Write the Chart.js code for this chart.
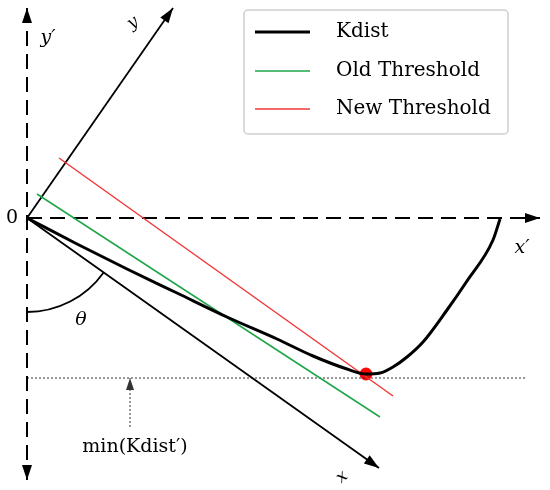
<!DOCTYPE html>
<html>
<head>
<meta charset="utf-8">
<script src="https://cdn.jsdelivr.net/npm/chart.js@4.4.1/dist/chart.umd.min.js"></script>
<style>
  html, body { margin: 0; padding: 0; background: #fff; }
  #wrap { width: 550px; height: 490px; }
</style>
</head>
<body>
<div id="wrap"><canvas id="chart" width="550" height="490"></canvas></div>
<script>
// Diagram data, origin at "0", x' to the right, y' up
const kdistX = [0, 50, 100, 150, 200, 250, 286, 320, 339, 353, 366, 380, 396, 420, 440, 466, 473];
const kdistY = [0, -26, -51, -75, -99, -121, -138, -151, -156, -155, -149, -139, -124, -92, -63, -22, -1];
const oldThrX = [10, 353];
const oldThrY = [24, -199];
const newThrX = [32, 366];
const newThrY = [60, -178];
const minPointX = [339];
const minPointY = [-156];
const minLevel = -160;

const legendLabels = ['Kdist', 'Old Threshold', 'New Threshold'];

function pts(xs, ys) {
    return xs.map((x, i) => ({ x: x, y: ys[i] }));
}

const serif = "'DejaVu Serif', 'Liberation Serif', serif";

// arrowheads on datasets flagged with arrowStart / arrowEnd
const arrowPlugin = {
    id: 'arrows',
    afterDatasetsDraw(chart) {
        const ctx = chart.ctx;
        chart.data.datasets.forEach((ds, i) => {
            if (!ds.arrowStart && !ds.arrowEnd) return;
            const p = chart.getDatasetMeta(i).data;
            const head = (tip, from) => {
                const a = Math.atan2(tip.y - from.y, tip.x - from.x);
                const len = ds.arrowLen || 15, w = ds.arrowWidth || 5;
                ctx.save();
                ctx.fillStyle = ds.borderColor;
                ctx.beginPath();
                ctx.moveTo(tip.x, tip.y);
                ctx.lineTo(tip.x - len * Math.cos(a) + w * Math.sin(a), tip.y - len * Math.sin(a) - w * Math.cos(a));
                ctx.lineTo(tip.x - len * Math.cos(a) - w * Math.sin(a), tip.y - len * Math.sin(a) + w * Math.cos(a));
                ctx.closePath();
                ctx.fill();
                ctx.restore();
            };
            if (ds.arrowEnd) head(p[p.length - 1], p[p.length - 2]);
            if (ds.arrowStart) head(p[0], p[1]);
        });
    }
};

// angle arc, text labels and the boxed legend
const decorPlugin = {
    id: 'decor',
    afterDraw(chart) {
        const ctx = chart.ctx;
        const xs = chart.scales.x, ys = chart.scales.y;
        const px = v => xs.getPixelForValue(v);
        const py = v => ys.getPixelForValue(v);

        // theta arc between y' (down) and x axis
        const r = px(94) - px(0);
        ctx.save();
        ctx.strokeStyle = '#000';
        ctx.lineWidth = 1.8;
        ctx.beginPath();
        ctx.arc(px(0), py(0), r, Math.atan2(250, 352), Math.PI / 2);
        ctx.stroke();
        ctx.restore();

        const text = (s, x, y, font, rot) => {
            ctx.save();
            ctx.fillStyle = '#000';
            ctx.font = font;
            ctx.textAlign = 'center';
            ctx.textBaseline = 'middle';
            ctx.translate(px(x), py(y));
            if (rot) ctx.rotate(rot);
            ctx.fillText(s, 0, 0);
            ctx.restore();
        };
        text('0', -15, 0, '19px ' + serif);
        text('y\u2032', 21, 180, 'italic 19px ' + serif);
        text('y', 106, 195, 'italic 17px ' + serif, -0.6);
        text('x\u2032', 495, -30, 'italic 19px ' + serif);
        text('x', 315, -259, 'italic 17px ' + serif, -0.7);
        text('\u03b8', 54, -102, 'italic 19px ' + serif);
        text('min(Kdist\u2032)', 108, -229, '19px ' + serif);

        // legend box
        const lx = 244, ly = 10, lw = 264, lh = 124;
        ctx.save();
        ctx.fillStyle = '#fff';
        ctx.strokeStyle = '#cfcfcf';
        ctx.lineWidth = 1.5;
        ctx.beginPath();
        ctx.roundRect(lx, ly, lw, lh, 4);
        ctx.fill();
        ctx.stroke();
        const rows = [32, 71, 109];
        const sets = chart.data.datasets.slice(0, 3);
        legendLabels.forEach((lab, i) => {
            ctx.strokeStyle = sets[i].borderColor;
            ctx.lineWidth = sets[i].borderWidth;
            ctx.beginPath();
            ctx.moveTo(255, rows[i]);
            ctx.lineTo(310, rows[i]);
            ctx.stroke();
            ctx.fillStyle = '#000';
            ctx.font = '20px ' + serif;
            ctx.textAlign = 'left';
            ctx.textBaseline = 'middle';
            ctx.fillText(lab, 336, rows[i]);
        });
        ctx.restore();
    }
};

const line = (data, color, width, extra) => Object.assign({
    data: data,
    showLine: true,
    borderColor: color,
    backgroundColor: color,
    borderWidth: width,
    pointRadius: 0,
    fill: false
}, extra || {});

new Chart(document.getElementById('chart'), {
    type: 'scatter',
    data: {
        datasets: [
            line(pts(kdistX, kdistY), '#000', 3, { label: legendLabels[0], cubicInterpolationMode: 'monotone' }),
            line(pts(oldThrX, oldThrY), '#1fa64a', 1.5, { label: legendLabels[1] }),
            line(pts(newThrX, newThrY), '#f0393a', 1.5, { label: legendLabels[2] }),
            // axes of the diagram
            line([{ x: 0, y: 210 }, { x: 0, y: -262 }], '#000', 2, { borderDash: [15, 8], arrowStart: true, arrowEnd: true }),
            line([{ x: 0, y: 0 }, { x: 513, y: 0 }], '#000', 2, { borderDash: [15, 8], arrowEnd: true }),
            line([{ x: 0, y: 0 }, { x: 146, y: 210 }], '#000', 1.8, { arrowEnd: true }),
            line([{ x: 0, y: 0 }, { x: 352, y: -250 }], '#000', 1.8, { arrowEnd: true }),
            // minimum level and its pointer
            line([{ x: 0, y: minLevel }, { x: 500, y: minLevel }], '#333', 1, { borderDash: [2, 2] }),
            line([{ x: 103, y: -209 }, { x: 103, y: minLevel }], '#333', 1, { borderDash: [2, 2], arrowEnd: true, arrowLen: 12, arrowWidth: 4 }),
            // minimum point
            { data: pts(minPointX, minPointY), pointRadius: 6, backgroundColor: '#ff0000', borderColor: '#ff0000', showLine: false }
        ]
    },
    options: {
        responsive: false,
        animation: false,
        layout: { padding: 0, autoPadding: false },
        plugins: { legend: { display: false }, tooltip: { enabled: false } },
        scales: {
            x: { type: 'linear', min: -27, max: 523, display: false },
            y: { type: 'linear', min: -272, max: 218, display: false }
        }
    },
    plugins: [arrowPlugin, decorPlugin]
});
</script>
</body>
</html>
